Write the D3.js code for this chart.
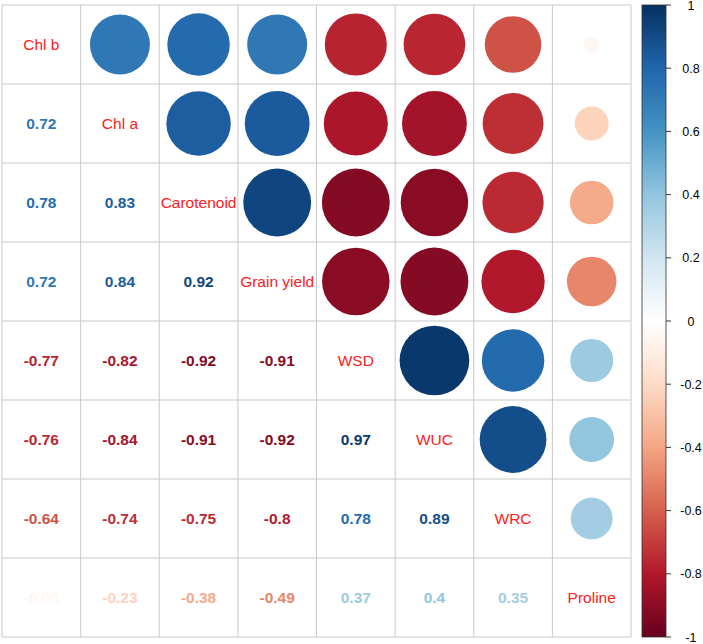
<!DOCTYPE html>
<html><head><meta charset="utf-8">
<script src="https://cdn.jsdelivr.net/npm/d3@7"></script>
<style>body{margin:0;background:#fff}svg{display:block}</style>
</head><body>
<svg id="c" width="703" height="644"></svg>
<script>
const variables = ["Chl b","Chl a","Carotenoid","Grain yield","WSD","WUC","WRC","Proline"];
// lower-triangle correlations, row i: correlations with variables 0..i-1
const corrRows = [
  [],
  [0.72],
  [0.78, 0.83],
  [0.72, 0.84, 0.92],
  [-0.77, -0.82, -0.92, -0.91],
  [-0.76, -0.84, -0.91, -0.92, 0.97],
  [-0.64, -0.74, -0.75, -0.8, 0.78, 0.89],
  [-0.05, -0.23, -0.38, -0.49, 0.37, 0.4, 0.35]
];
const legendTicks = [1,0.8,0.6,0.4,0.2,0,-0.2,-0.4,-0.6,-0.8,-1];
const paletteStops = ["#67001F","#B2182B","#D6604D","#F4A582","#FDDBC7","#FFFFFF","#D1E5F0","#92C5DE","#4393C3","#2166AC","#053061"];

const n = variables.length;
const svg = d3.select("#c");
const font = "Arial, 'Liberation Sans', sans-serif";

const x = d3.scaleBand().domain(d3.range(n)).range([2, 631]).padding(0);
const y = d3.scaleBand().domain(d3.range(n)).range([5, 637]).padding(0);
const color = d3.scaleLinear().domain(d3.range(11).map(i => -1 + i*0.2)).range(paletteStops).interpolate(d3.interpolateRgb);

const cells = [];
for (let i = 0; i < n; i++) for (let j = 0; j < i; j++) cells.push({i, j, v: corrRows[i][j]});

// grid
const g = svg.append("g");
for (let k = 0; k <= n; k++) {
  const xx = k < n ? x(k) : x.range()[1];
  const yy = k < n ? y(k) : y.range()[1];
  g.append("line").attr("x1", xx).attr("x2", xx).attr("y1", y.range()[0]).attr("y2", y.range()[1])
    .attr("stroke", "#C8C8C8").attr("stroke-width", 1);
  g.append("line").attr("y1", yy).attr("y2", yy).attr("x1", x.range()[0]).attr("x2", x.range()[1])
    .attr("stroke", "#C8C8C8").attr("stroke-width", 1);
}

// upper circles (transpose of lower)
svg.append("g").selectAll("circle").data(cells).join("circle")
  .attr("cx", d => x(d.i) + x.bandwidth()/2)
  .attr("cy", d => y(d.j) + y.bandwidth()/2)
  .attr("r", d => 0.45 * Math.sqrt(Math.abs(d.v)) * x.bandwidth())
  .attr("fill", d => color(d.v));

// lower numbers
svg.append("g").selectAll("text").data(cells).join("text")
  .attr("x", d => x(d.j) + x.bandwidth()/2)
  .attr("y", d => y(d.i) + y.bandwidth()/2)
  .attr("dy", "0.36em")
  .attr("text-anchor", "middle")
  .attr("font-family", font).attr("font-weight", "bold").attr("font-size", 15.5)
  .attr("fill", d => color(d.v))
  .text(d => String(d.v));

// diagonal labels
svg.append("g").selectAll("text").data(variables).join("text")
  .attr("x", (d, i) => x(i) + x.bandwidth()/2)
  .attr("y", (d, i) => y(i) + y.bandwidth()/2)
  .attr("dy", "0.36em")
  .attr("text-anchor", "middle")
  .attr("font-family", font).attr("font-size", 15.5)
  .attr("fill", "#FF2020")
  .text(d => d);

// colour legend
const ly = d3.scaleLinear().domain([1, -1]).range([5, 637]);
const defs = svg.append("defs");
const grad = defs.append("linearGradient").attr("id", "lg").attr("x1", 0).attr("x2", 0).attr("y1", 0).attr("y2", 1);
paletteStops.slice().reverse().forEach((c, i) => grad.append("stop").attr("offset", (i/10)).attr("stop-color", c));
svg.append("rect").attr("x", 642).attr("y", ly(1)).attr("width", 24).attr("height", ly(-1) - ly(1))
  .attr("fill", "url(#lg)").attr("stroke", "#333").attr("stroke-width", 0.8);
const lt = svg.append("g");
lt.selectAll("line").data(legendTicks).join("line")
  .attr("x1", 666).attr("x2", 671).attr("y1", d => ly(d)).attr("y2", d => ly(d))
  .attr("stroke", "#333").attr("stroke-width", 1);
lt.selectAll("text").data(legendTicks).join("text")
  .attr("x", 691).attr("y", d => ly(d)).attr("dy", "0.36em")
  .attr("text-anchor", "middle").attr("font-family", font).attr("font-size", 12.5).attr("fill", "#000")
  .text(d => String(d));
</script>
</body></html>
